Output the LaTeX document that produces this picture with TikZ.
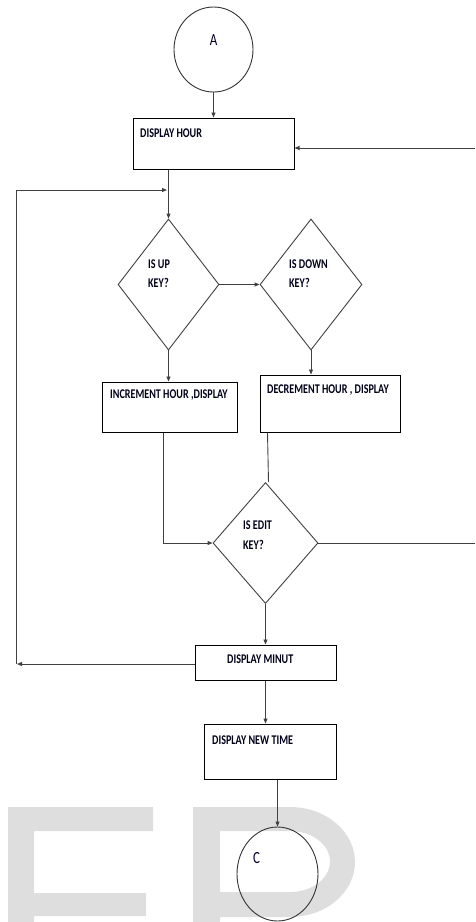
\documentclass[tikz,border=0pt]{standalone}
\usepackage{fontspec}
\newfontfamily\lbl{Carlito}[FakeStretch=0.76]
\usetikzlibrary{shapes.geometric,arrows.meta}
\begin{document}
\begin{tikzpicture}[x=1pt,y=-1pt,
  box/.style={draw=black,line width=1pt,rectangle,inner sep=0pt},
  dia/.style={draw=black!75,line width=0.9pt,diamond,inner sep=0pt,aspect=1},
  oval/.style={draw=black!80,line width=0.9pt,ellipse,inner sep=0pt},
  lab/.style={anchor=base west,inner sep=0pt,font=\lbl\bfseries\fontsize{13.3}{15}\selectfont,text=black!90!blue},
  big/.style={inner sep=0pt,font=\lbl\fontsize{17}{19}\selectfont,text=black!85!blue},
  conn/.style={draw=black!75,line width=0.9pt},
  arr/.style={conn,-{Triangle[length=5pt,width=4pt]}},
  wm/.style={fill=black!13,draw=none}
]
\useasboundingbox (0,0) rectangle (475,922);
% watermark
\begin{scope}
\clip (0,0) rectangle (475,922);
\fill[wm] (8,807) -- (153,807) -- (153,831) -- (34,831) -- (34,893) -- (146,893)
  -- (146,916) -- (34,916) -- (34,940) -- (8,940) -- cycle;
\fill[wm,even odd rule] (193,940) -- (193,807) -- (290,807)
  arc[start angle=90,end angle=-90,x radius=65pt,y radius=55pt] -- (220,917) -- (220,940) -- cycle
  (220,831) -- (290,831) arc[start angle=90,end angle=-90,x radius=40pt,y radius=30.5pt] -- (220,892) -- cycle;
\end{scope}
% nodes
\node[oval,minimum width=79pt,minimum height=85pt] (A) at (213.5,49.5) {};
\node[big,anchor=base] (tA) at (213.5,45) {A};
\node[box,minimum width=161pt,minimum height=51pt] (DH) at (213.5,143.5) {};
\node[lab] (tDH) at (140,137) {DISPLAY HOUR};
\node[dia,minimum width=101pt,minimum height=131pt] (d1) at (168.5,284.5) {};
\node[lab] (t1a) at (148,268) {IS UP};
\node[lab] (t1b) at (148,287) {KEY?};
\node[dia,minimum width=102pt,minimum height=131pt] (d2) at (311,284.5) {};
\node[lab] (t2a) at (289,268) {IS DOWN};
\node[lab] (t2b) at (289,287) {KEY?};
\node[box,minimum width=135pt,minimum height=50pt] (INC) at (169.5,407) {};
\node[lab] (tINC) at (110,398) {INCREMENT HOUR ,DISPLAY};
\node[box,minimum width=140pt,minimum height=57pt] (DEC) at (330,403.5) {};
\node[lab] (tDEC) at (267,393) {DECREMENT HOUR , DISPLAY};
\node[dia,minimum width=105pt,minimum height=121pt] (d3) at (265.5,543) {};
\node[lab] (t3a) at (243,529) {IS EDIT};
\node[lab] (t3b) at (243,549) {KEY?};
\node[box,minimum width=141pt,minimum height=35pt] (MIN) at (265.5,662.5) {};
\node[lab] (tMIN) at (227,663) {DISPLAY MINUT};
\node[box,minimum width=132pt,minimum height=55pt] (NEW) at (270,751.5) {};
\node[lab] (tNEW) at (212,744) {DISPLAY NEW TIME};
\node[oval,minimum width=81pt,minimum height=94pt] (C) at (277.5,874) {};
\node[big,anchor=base west] (tC) at (253,863) {C};
% free ends
\coordinate (rIn) at (475,148);
\coordinate (rOut) at (475,543);
\coordinate (lA) at (17,664);
\coordinate (lB) at (16,664);
\coordinate (lC) at (16,190);
\coordinate (lD) at (167,190);
% connectors
\draw[arr] (A.south) -- (A.south |- DH.north);
\draw[arr] (rIn) -- (rIn -| DH.east);
\draw[arr] (DH.south -| d1.north) -- (d1.north);
\draw[conn] (lB) -- (lC);
\draw[arr] (lC) -- (lD);
\draw[arr] (d1.east) -- (d2.west);
\draw[arr] (d1.south) -- (d1.south |- INC.north);
\draw[arr] (d2.south) -- (d2.south |- DEC.north);
\draw[arr] ([xshift=-6.5pt]INC.south) |- (d3.west);
\draw[conn] ([xshift=8pt]DEC.south west) -- ([xshift=3pt]d3.north);
\draw[conn] (d3.east) -- (d3.east -| rOut);
\draw[arr] (d3.south) -- (d3.south |- MIN.north);
\draw[arr] (MIN.west |- lA) -- (lA);
\draw[arr] (MIN.south) -- (MIN.south |- NEW.north);
\draw[arr] (C.north |- NEW.south) -- (C.north);
\end{tikzpicture}
\end{document}
